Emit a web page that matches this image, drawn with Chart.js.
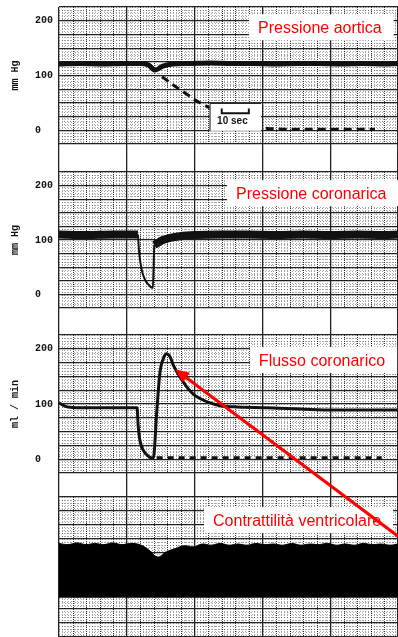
<!DOCTYPE html>
<html>
<head>
<meta charset="utf-8">
<script src="https://cdn.jsdelivr.net/npm/chart.js@4.4.0/dist/chart.umd.min.js"></script>
<style>
  html, body { margin: 0; padding: 0; background: #fff; }
  #wrap { position: relative; width: 398px; height: 637px; }
</style>
</head>
<body>
<div id="wrap"><canvas id="traceChart"></canvas></div>
<script>
// Recording traces - time in seconds

// Pressione aortica (mm Hg)
const aorticTime = [0, 8, 16, 24, 30, 33, 35.4, 38.3, 42, 48, 56, 64, 72, 80, 88, 96, 104, 112, 120, 125];
const aorticPress = [121, 122, 121, 122, 122, 119, 110, 117, 121, 122, 123, 122, 122, 121, 122, 122, 121, 122, 121, 122];
const aorticDashTime = [38, 42, 46.5, 51, 56, 62, 68, 74, 78, 90, 104, 116.5];
const aorticDashPress = [98, 83, 68, 53, 40, 26, 14, 5, 3, 2, 2, 2];

// Pressione coronarica (mm Hg)
const coronaryPreTime = [0, 10, 20, 29.1];
const coronaryPrePress = [110, 109, 110, 110];
const coronaryDropTime = [29.1, 29.6, 30.5, 31.7, 33, 34.6, 34.9, 35.1];
const coronaryDropPress = [110, 75, 45, 27, 18, 12, 50, 91];
const coronaryPostTime = [35.1, 36.5, 38.3, 41, 44.6, 50, 60, 70, 80, 90, 100, 110, 120, 125];
const coronaryPostPress = [91, 95, 100, 104, 107, 109, 110, 110, 109, 110, 109, 110, 109, 110];

// Flusso coronarico (ml/min)
const flowTime = [0, 2.2, 4, 10, 20, 28.8, 29.2, 29.8, 31, 32.8, 34.3, 34.8, 36, 37.2, 38.8, 39.7, 40.9, 42.1, 44.6, 47.1, 49.5, 52, 55.7, 59.4, 64, 76.7, 88.9, 101, 113, 125];
const flowValue = [102, 96, 94, 93, 93, 93, 60, 35, 17, 6, 2, 2, 83, 156, 186, 191, 186, 171, 149, 131, 118, 110, 102, 97, 95, 93, 91, 89, 89, 89];
const flowDashTime = [36, 119];
const flowDashValue = [2.5, 2.5];

// Contrattilita ventricolare (upper edge of the band, arbitrary units)
const contrTime = [0, 3.3, 6.6, 9.9, 13.2, 16.5, 19.8, 23.1, 26.4, 29.7, 33, 36.3, 39.6, 42.9, 46.2, 49.5, 52.8, 56.1, 59.4, 62.7, 66, 69.3, 72.6, 75.9, 79.2, 82.5, 85.8, 89.1, 92.4, 95.7, 99, 102.3, 105.6, 108.9, 112.2, 115.5, 118.8, 122.1, 125];
const contrValue = [167, 165, 168, 165, 167, 165, 168, 165, 167, 165, 156, 143, 152, 158, 163, 161, 166, 164, 167, 164, 166, 164, 167, 165, 166, 164, 167, 164, 166, 165, 167, 164, 166, 164, 167, 165, 166, 164, 166];
const contrBase = 70;

const tickLabels = [0, 100, 200];

const pts = (xs, ys) => xs.map((t, i) => ({ x: t, y: ys[i] }));

const ink = '#111';
const red = '#ff0000';
const monoFont = 'Liberation Mono, DejaVu Sans Mono, monospace';

function fitLeft(scale) {
    scale.width = 59;
    scale.paddingTop = 0;
    scale.paddingBottom = 0;
}

function panelAxis(order, share, title, min, max, withLabels) {
    return {
        type: 'linear',
        position: 'left',
        stack: 'traces',
        stackWeight: share,
        weight: order,
        min: min,
        max: max,
        ticks: {
            stepSize: 25,
            autoSkip: false,
            padding: 6,
            crossAlign: 'near',
            color: ink,
            font: { family: monoFont, weight: 'bold', size: 10 },
            callback: v => withLabels && tickLabels.includes(v) ? (v === 0 ? '0  ' : String(v)) : ''
        },
        grid: { color: '#222', lineWidth: 1.2, drawTicks: false },
        border: { display: false },
        title: {
            display: !!title,
            text: title,
            color: ink,
            font: { family: monoFont, weight: 'bold', size: 10 },
            padding: { top: 9, bottom: 0 }
        },
        afterFit: fitLeft
    };
}

function gapAxis(order, share) {
    return {
        type: 'linear',
        position: 'left',
        stack: 'traces',
        stackWeight: share,
        weight: order,
        min: 0,
        max: 1,
        ticks: { display: false },
        grid: { display: false },
        border: { display: false },
        afterFit: fitLeft
    };
}

// graph paper dots and 5 s lines inside each panel
const paperGrid = {
    id: 'paperGrid',
    beforeDatasetsDraw(chart) {
        const { ctx } = chart;
        const x = chart.scales.x;
        ['yA', 'yB', 'yC', 'yD'].forEach(id => {
            const y = chart.scales[id];
            ctx.save();
            ctx.lineWidth = 1;
            ctx.strokeStyle = 'rgba(0,0,0,0.36)';
            ctx.setLineDash([1, 2]);
            ctx.beginPath();
            for (let t = 1; t < 125; t++) {
                if (t % 5 === 0) continue;
                const px = Math.round(x.getPixelForValue(t)) + 0.5;
                ctx.moveTo(px, y.top);
                ctx.lineTo(px, y.bottom);
            }
            for (let v = y.min + 5; v < y.max; v += 5) {
                if ((v - y.min) % 25 === 0) continue;
                const py = Math.round(y.getPixelForValue(v)) + 0.5;
                ctx.moveTo(x.left, py);
                ctx.lineTo(x.right, py);
            }
            ctx.stroke();
            ctx.strokeStyle = 'rgba(0,0,0,0.8)';
            ctx.setLineDash([1, 1]);
            ctx.beginPath();
            for (let t = 5; t < 125; t += 5) {
                if (t % 25 === 0) continue;
                const px = Math.round(x.getPixelForValue(t)) + 0.5;
                ctx.moveTo(px, y.top);
                ctx.lineTo(px, y.bottom);
            }
            ctx.stroke();
            ctx.restore();
        });
    }
};

const panelLabels = [
    { text: 'Pressione aortica', axis: 'yA', t: 73.4, v: 177 },
    { text: 'Pressione coronarica', axis: 'yB', t: 65.3, v: 175 },
    { text: 'Flusso coronarico', axis: 'yC', t: 73.7, v: 169 },
    { text: 'Contrattilità ventricolare', axis: 'yD', t: 56.8, v: 198 }
];

// labels, 10 s bar and the red arrow
const notes = {
    id: 'notes',
    afterDatasetsDraw(chart) {
        const { ctx, scales } = chart;
        const x = scales.x;
        const yA = scales.yA;
        ctx.save();

        // 10 sec scale bar
        const bx0 = x.getPixelForValue(55.5), bx1 = x.getPixelForValue(74.5);
        const by0 = yA.getPixelForValue(50), by1 = yA.getPixelForValue(-1);
        ctx.fillStyle = '#fff';
        ctx.fillRect(bx0, by0, bx1 - bx0, by1 - by0);
        ctx.strokeStyle = ink;
        ctx.lineWidth = 1;
        ctx.beginPath();
        ctx.moveTo(bx0 + 0.5, by1);
        ctx.lineTo(bx0 + 0.5, by0 + 0.5);
        ctx.lineTo(bx1, by0 + 0.5);
        ctx.stroke();
        const s0 = x.getPixelForValue(60), s1 = x.getPixelForValue(70);
        const sy = yA.getPixelForValue(31), syTop = yA.getPixelForValue(40);
        ctx.lineWidth = 2;
        ctx.beginPath();
        ctx.moveTo(s0, syTop);
        ctx.lineTo(s0, sy);
        ctx.lineTo(s1, sy);
        ctx.lineTo(s1, syTop);
        ctx.stroke();
        ctx.fillStyle = ink;
        ctx.font = 'bold 10px Liberation Sans, Arial, sans-serif';
        ctx.textBaseline = 'alphabetic';
        ctx.fillText('10 sec', x.getPixelForValue(58.3), yA.getPixelForValue(11));

        // panel titles on white boxes
        ctx.font = '16px Liberation Sans, Arial, sans-serif';
        panelLabels.forEach(l => {
            const lx = x.getPixelForValue(l.t);
            const ly = scales[l.axis].getPixelForValue(l.v);
            const w = ctx.measureText(l.text).width;
            ctx.fillStyle = '#fff';
            ctx.fillRect(lx - 9, ly - 19, w + 21, 26);
            ctx.fillStyle = red;
            ctx.fillText(l.text, lx, ly);
        });

        // arrow from the contractility band to the flow peak
        const ax0 = x.getPixelForValue(125), ay0 = scales.yD.getPixelForValue(180);
        const ax1 = x.getPixelForValue(42.8), ay1 = scales.yC.getPixelForValue(163);
        const ang = Math.atan2(ay1 - ay0, ax1 - ax0);
        const head = 14, half = 6;
        ctx.strokeStyle = red;
        ctx.fillStyle = red;
        ctx.lineWidth = 3;
        ctx.beginPath();
        ctx.moveTo(ax0, ay0);
        ctx.lineTo(ax1 - Math.cos(ang) * head * 0.8, ay1 - Math.sin(ang) * head * 0.8);
        ctx.stroke();
        ctx.beginPath();
        ctx.moveTo(ax1, ay1);
        ctx.lineTo(ax1 - Math.cos(ang) * head + Math.sin(ang) * half, ay1 - Math.sin(ang) * head - Math.cos(ang) * half);
        ctx.lineTo(ax1 - Math.cos(ang) * head - Math.sin(ang) * half, ay1 - Math.sin(ang) * head + Math.cos(ang) * half);
        ctx.closePath();
        ctx.fill();
        ctx.restore();
    }
};

const traceStyle = { pointRadius: 0, fill: false, borderColor: ink, cubicInterpolationMode: 'monotone' };

new Chart(document.getElementById('traceChart'), {
    type: 'line',
    data: {
        datasets: [
            { ...traceStyle, label: 'Pressione aortica', data: pts(aorticTime, aorticPress), yAxisID: 'yA', borderWidth: 5 },
            { ...traceStyle, label: 'Pressione aortica (tratteggio)', data: pts(aorticDashTime, aorticDashPress), yAxisID: 'yA', borderWidth: 3, borderDash: [8, 5] },
            { ...traceStyle, label: 'Pressione coronarica', data: pts(coronaryPreTime, coronaryPrePress), yAxisID: 'yB', borderWidth: 8 },
            { ...traceStyle, label: 'Pressione coronarica (occlusione)', data: pts(coronaryDropTime, coronaryDropPress), yAxisID: 'yB', borderWidth: 2 },
            { ...traceStyle, label: 'Pressione coronarica (ripresa)', data: pts(coronaryPostTime, coronaryPostPress), yAxisID: 'yB', borderWidth: 8 },
            { ...traceStyle, label: 'Flusso coronarico', data: pts(flowTime, flowValue), yAxisID: 'yC', borderWidth: 3 },
            { ...traceStyle, label: 'Flusso zero', data: pts(flowDashTime, flowDashValue), yAxisID: 'yC', borderWidth: 3, borderDash: [6, 5] },
            { ...traceStyle, label: 'Contrattilità ventricolare', data: pts(contrTime, contrValue), yAxisID: 'yD', borderWidth: 1, backgroundColor: '#000', borderColor: '#000', fill: { value: contrBase }, tension: 0.4, cubicInterpolationMode: 'default' }
        ]
    },
    options: {
        responsive: true,
        maintainAspectRatio: false,
        animation: false,
        layout: { padding: { top: 7, left: 0, right: 0, bottom: 0 } },
        plugins: {
            legend: { display: false },
            tooltip: { enabled: false }
        },
        scales: {
            x: {
                type: 'linear',
                min: 0,
                max: 125,
                ticks: { display: false, stepSize: 25 },
                grid: { color: '#222', lineWidth: 1.3, drawTicks: false },
                border: { display: false },
                afterFit: s => { s.height = 0; s.paddingLeft = 0; s.paddingRight = 0; }
            },
            yA: panelAxis(7, 137, 'mm Hg', -25, 225, true),
            gA: gapAxis(6, 28),
            yB: panelAxis(5, 136, 'mm Hg', -25, 225, true),
            gB: gapAxis(4, 27),
            yC: panelAxis(3, 138, 'ml / min', -25, 225, true),
            gC: gapAxis(2, 24),
            yD: panelAxis(1, 140, '', 0, 250, false)
        }
    },
    plugins: [paperGrid, notes]
});
</script>
</body>
</html>
